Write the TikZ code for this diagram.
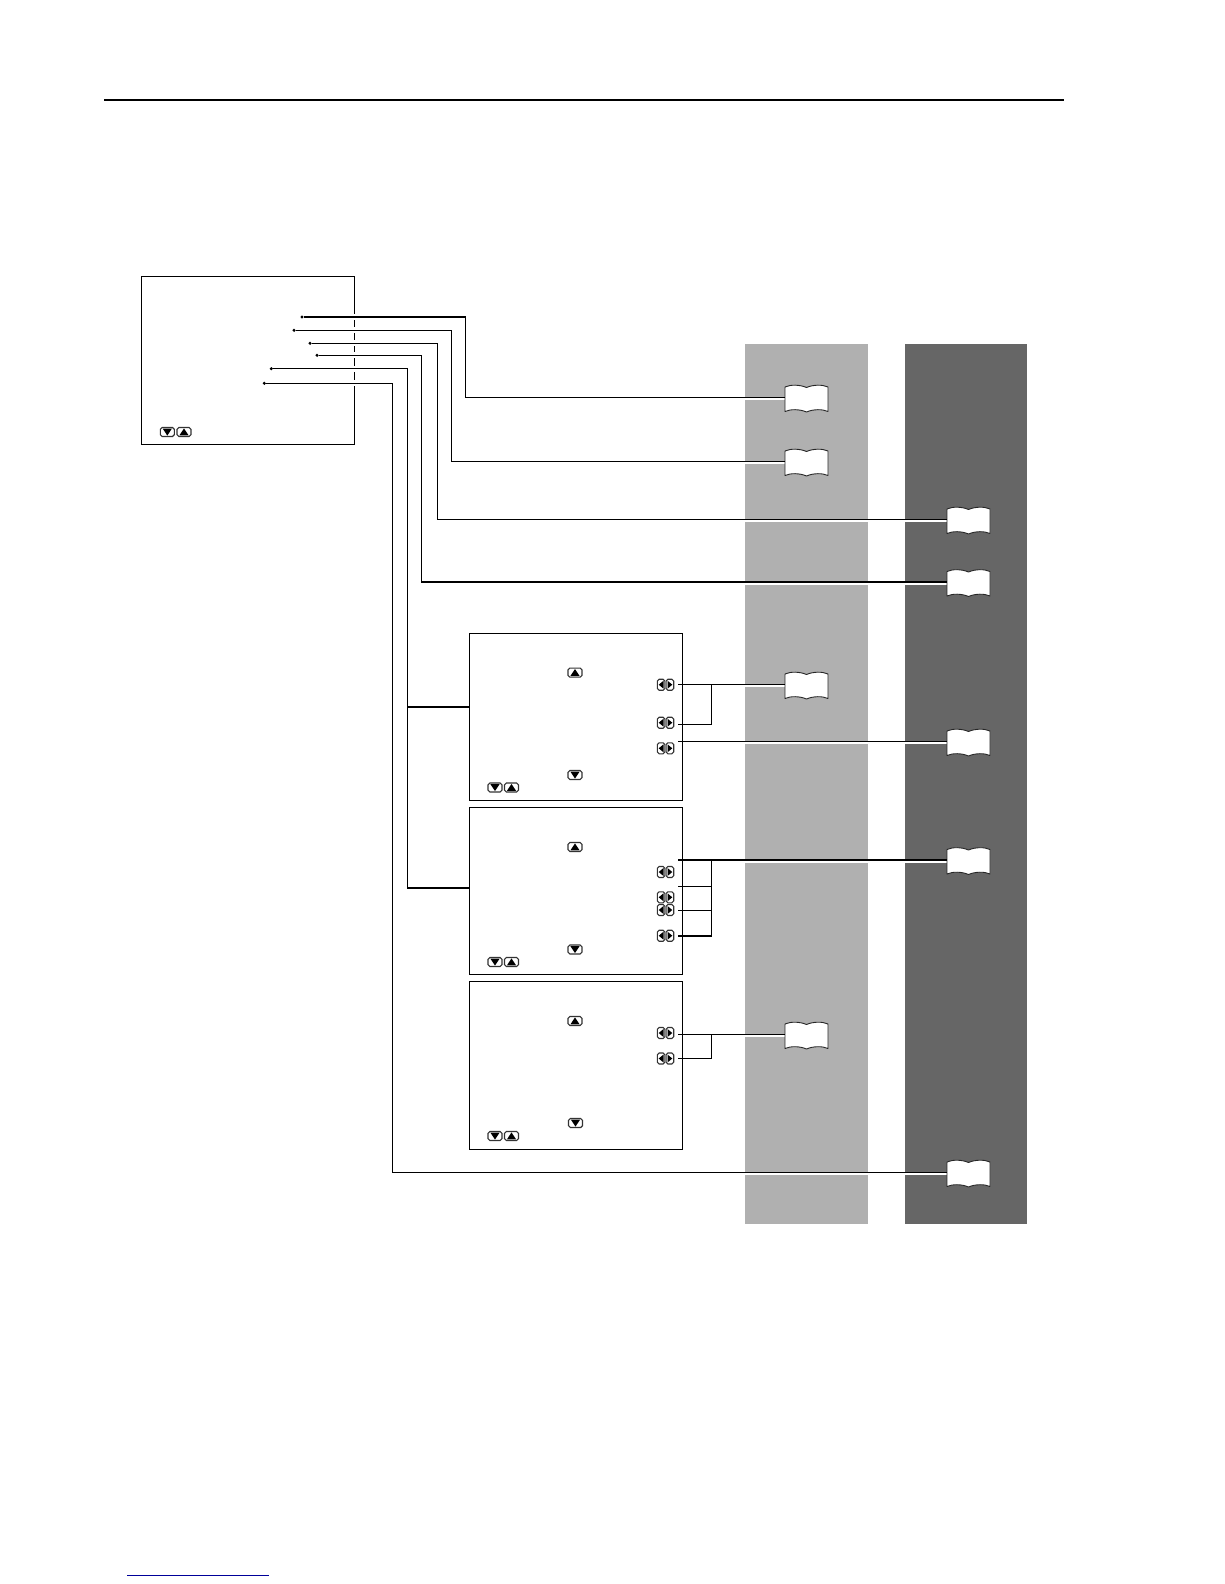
\documentclass[tikz,border=0pt]{standalone}
\usetikzlibrary{calc}
\tikzset{
  x=1pt,y=-1pt,
  panel/.style={draw=black,line width=1pt,fill=none,rectangle,inner sep=0pt,anchor=north west},
  conn/.style={line width=1.1pt,black},
  halo/.style={line width=3pt,white},
  gap/.style={line width=3pt,white},
  dotend/.style={circle,fill=black,inner sep=0pt,minimum size=3.4pt},
  bookanchor/.style={rectangle,inner sep=0pt,minimum width=43pt,minimum height=27pt},
  bookline/.style={draw=black!85,fill=white,line width=0.9pt,line join=round},
  btn/.style={draw=black!80,fill=white,line width=1.1pt,rounded corners=1.8pt},
  tri/.style={fill=black},
  pics/btnup/.style={code={
    \draw[btn] (-7,-4.5) rectangle (7,4.5);
    \fill[tri] (-4.6,3.4) -- (4.6,3.4) -- (0,-3.6) -- cycle;}},
  pics/btndown/.style={code={
    \draw[btn] (-7,-4.5) rectangle (7,4.5);
    \fill[tri] (-4.6,-3.4) -- (4.6,-3.4) -- (0,3.6) -- cycle;}},
  pics/btnlr/.style={code={
    \draw[btn] (-8.2,-5.5) rectangle (-0.6,5.5);
    \draw[btn] (0.6,-5.5) rectangle (8.2,5.5);
    \fill[tri] (-2,-4) -- (-2,4) -- (-6.8,0) -- cycle;
    \fill[tri] (2,-4) -- (2,4) -- (6.8,0) -- cycle;}},
  pics/bookshape/.style={code={
    \draw[bookline] (-21.5,-10.5) .. controls (-16,-13) and (-7,-13) .. (0,-10)
      .. controls (7,-13) and (16,-13) .. (21.5,-10.5)
      -- (21.5,14)
      .. controls (16,11.5) and (7,11.5) .. (0,14.5)
      .. controls (-7,11.5) and (-16,11.5) .. (-21.5,14) -- cycle;}}
}
\newcommand{\bookat}[3]{%
  \pic at (#2,#3) {bookshape};
  \node[bookanchor] (#1) at (#2,#3) {};}
\begin{document}
\begin{tikzpicture}
\useasboundingbox (0,0) rectangle (1224,1584);
\fill[white] (0,0) rectangle (1224,1584);
% bands
\fill[fill={rgb,255:red,176;green,176;blue,176}] (745,344) rectangle (868,1224);
\fill[fill={rgb,255:red,102;green,102;blue,102}] (905,344) rectangle (1027,1224);
% top and bottom rules
\coordinate (ruleL) at (104,100); \coordinate (ruleR) at (1064,100);
\draw[line width=2pt,black] (ruleL) -- (ruleR);
\coordinate (footL) at (127,1575.3); \coordinate (footR) at (269,1575.3);
\draw[line width=1.1pt,color={rgb,255:red,0;green,0;blue,153}] (footL) -- (footR);
% book positions
\coordinate (bk1) at (806.5,397.5);
\coordinate (bk2) at (806.5,461.5);
\coordinate (bk3) at (968.5,519.5);
\coordinate (bk4) at (968.5,582);
\coordinate (bk5) at (806.5,684.5);
\coordinate (bk6) at (968.5,741.5);
\coordinate (bk7) at (968.5,860);
\coordinate (bk8) at (806.5,1034.5);
\coordinate (bk9) at (968.5,1172.5);
% named ends
\coordinate (v1) at (465.3,397.5);
\coordinate (v2) at (451.3,461.5);
\coordinate (v3) at (437.3,519.5);
\coordinate (v4) at (421.7,582);
\coordinate (v5) at (407.7,888);
\coordinate (v6) at (392.3,1172.5);
\coordinate (a1) at (678,684.5);
\coordinate (a2) at (678,724.3);
\coordinate (a3) at (678,741.5);
\coordinate (j1) at (711.5,684.5);
\coordinate (c1) at (678,860);
\coordinate (c2) at (678,886.3);
\coordinate (c3) at (678,910.3);
\coordinate (c4) at (678,936);
\coordinate (j2) at (711.5,860);
\coordinate (e1) at (678,1034.5);
\coordinate (e2) at (678,1058.5);
\coordinate (j3) at (711.5,1034.5);
% halos through the bands
\foreach \s/\e in {v1/bk1,v2/bk2,v3/bk3,v4/bk4,j1/bk5,a3/bk6,j2/bk7,j3/bk8,v6/bk9}
  \draw[halo] ([yshift=-1pt]\s) -- ([yshift=-1pt]\s -| \e);
% panels
\node[panel,minimum width=212.5pt,minimum height=167.5pt] (main) at (141,276.3) {};
\node[panel,minimum width=212.5pt,minimum height=166.5pt] (boxa) at (469,633.3) {};
\node[panel,minimum width=212.5pt,minimum height=166.5pt] (boxb) at (469,807.3) {};
\node[panel,minimum width=212.5pt,minimum height=167.5pt] (boxc) at (469,981) {};
% dots
\node[dotend] (d1) at (302,317) {};
\node[dotend] (d2) at (294,330.3) {};
\node[dotend] (d3) at (310,343.3) {};
\node[dotend] (d4) at (317,355.3) {};
\node[dotend] (d5) at (271.3,368.7) {};
\node[dotend] (d6) at (264.3,383.3) {};
% gaps in the edge of the main panel
\foreach \d in {d1,d2,d3,d4,d5,d6}
  \draw[gap] (main.east |- \d) ++(0,-3) -- ++(0,6);
% books
\bookat{b1}{806.5}{397.5}
\bookat{b2}{806.5}{461.5}
\bookat{b3}{968.5}{519.5}
\bookat{b4}{968.5}{582}
\bookat{b5}{806.5}{684.5}
\bookat{b6}{968.5}{741.5}
\bookat{b7}{968.5}{860}
\bookat{b8}{806.5}{1034.5}
\bookat{b9}{968.5}{1172.5}
% connectors
\draw[conn] (d1) -| (v1) -- (b1.west);
\draw[conn] (d2) -| (v2) -- (b2.west);
\draw[conn] (d3) -| (v3) -- (b3.west);
\draw[conn] (d4) -| (v4) -- (b4.west);
\draw[conn] (d5) -| (v5) -- (boxb.west |- v5);
\draw[conn] (v5 |- 0,707) -- (boxa.west |- 0,707);
\draw[conn] (d6) -| (v6) -- (b9.west);
\draw[conn] (a1) -- (b5.west);
\draw[conn] (a2) -| (j1);
\draw[conn] (a3) -- (b6.west);
\draw[conn] (c1) -- (b7.west);
\draw[conn] (c4) -| (j2);
\draw[conn] (c2) -- (c2 -| j2);
\draw[conn] (c3) -- (c3 -| j2);
\draw[conn] (e1) -- (b8.west);
\draw[conn] (e2) -| (j3);
% buttons
\pic at (167.3,432) {btndown}; \pic at (184,432) {btnup};
\pic at (575,672.6) {btnup}; \pic at (575,775) {btndown};
\pic at (495,787.5) {btndown}; \pic at (511.5,787.5) {btnup};
\pic at (665.5,684.7) {btnlr}; \pic at (665.5,722.7) {btnlr}; \pic at (665.5,748.3) {btnlr};
\pic at (575,847) {btnup}; \pic at (575,949.5) {btndown};
\pic at (495,962) {btndown}; \pic at (511.5,962) {btnup};
\pic at (665.5,872) {btnlr}; \pic at (665.5,897.3) {btnlr}; \pic at (665.5,910) {btnlr}; \pic at (665.5,935.7) {btnlr};
\pic at (575,1021) {btnup}; \pic at (575.5,1123) {btndown};
\pic at (495,1136) {btndown}; \pic at (511.5,1136) {btnup};
\pic at (665.5,1033) {btnlr}; \pic at (665.5,1058.5) {btnlr};
\end{tikzpicture}
\end{document}
